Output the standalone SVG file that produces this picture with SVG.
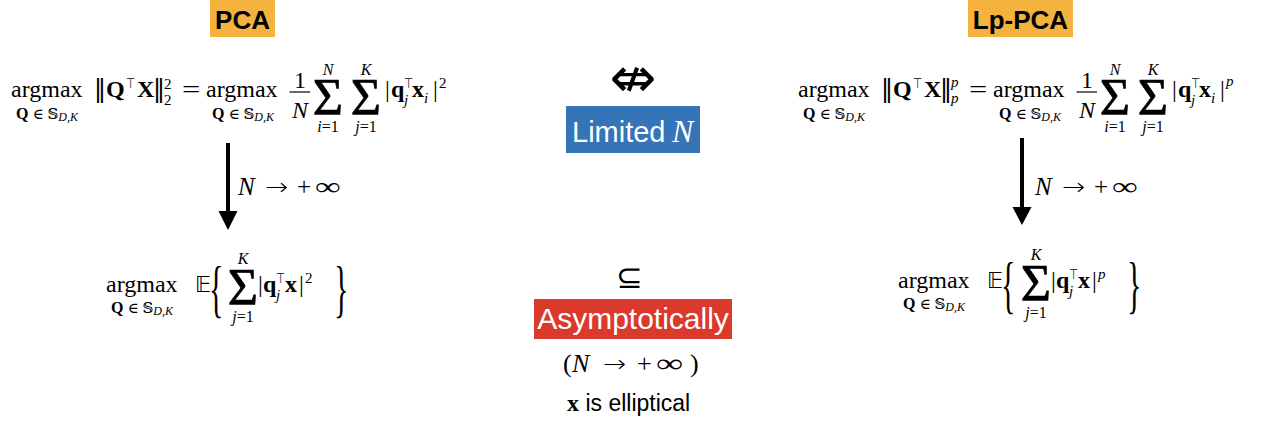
<svg xmlns="http://www.w3.org/2000/svg" width="1263" height="425" viewBox="0 0 1263 425">
<style>
.m{font-family:"Liberation Serif","DejaVu Serif",serif;fill:#000}
.bf{font-weight:bold}
.it{font-style:italic}
.dv{font-family:"DejaVu Serif","DejaVu Sans",serif}
.sym{font-family:"DejaVu Sans",sans-serif}
.lt{font-family:"DejaVu Sans",sans-serif;font-weight:200}
.ss{font-family:"Liberation Sans","Arial",sans-serif}
.lbl{font-family:"Liberation Sans","Arial",sans-serif;font-weight:bold;fill:#000}
.sig{font-family:"Liberation Serif","DejaVu Serif",serif;stroke:#000;stroke-width:0.7}
.wt{fill:#fff}
</style>
<defs>
<g id="sub-q">
<text class="m" x="0" y="0" text-anchor="middle" font-size="15"><tspan class="bf" font-size="16">Q</tspan><tspan class="dv" dx="4">∈</tspan><tspan class="dv" dx="4">𝕊</tspan><tspan class="it" font-size="12" dy="2">D,K</tspan></text>
</g>
<g id="top-t">
<text class="sym" x="0" y="0" font-size="14" transform="scale(0.75 1)">⊤</text>
</g>
<g id="eq">
<text class="m" x="0" y="0" font-size="24" transform="scale(1.35 1)">=</text>
</g>
<g id="to">
<text class="lt" x="0" y="0" font-size="24" transform="scale(1.15 1)">→</text>
</g>
</defs>

<g id="connectors">
<line x1="228" y1="143" x2="228" y2="213" stroke="#000" stroke-width="4"/>
<polygon points="218.5,211 237.5,211 228,230" fill="#000"/>
<line x1="1022" y1="138" x2="1022" y2="208" stroke="#000" stroke-width="4"/>
<polygon points="1012.5,207 1031.5,207 1022,225" fill="#000"/>
</g>

<g id="label-pca">
<rect x="210" y="0" width="65" height="37" fill="#f4b23e"/>
<text class="lbl" x="242.5" y="28.5" font-size="26" text-anchor="middle">PCA</text>
</g>

<g id="label-lppca">
<rect x="968" y="0" width="105" height="37" fill="#f4b23e"/>
<text class="lbl" x="1020.5" y="28.5" font-size="26" text-anchor="middle">Lp-PCA</text>
</g>

<g id="pca-finite" font-size="24">
<text class="m" x="11" y="97">argmax</text>
<use href="#sub-q" x="47" y="119"/>
<text class="m sym" x="94" y="97">‖</text>
<text class="m bf" x="106" y="97">Q</text>
<use href="#top-t" x="126" y="88"/>
<text class="m bf" x="137" y="97">X</text>
<text class="m sym" x="153" y="97">‖</text>
<text class="m" x="164" y="89" font-size="15">2</text>
<text class="m" x="164" y="105" font-size="15">2</text>
<use href="#eq" x="182" y="97"/>
<text class="m" x="206" y="97">argmax</text>
<use href="#sub-q" x="243" y="119"/>
<text class="m" x="300" y="88" text-anchor="middle">1</text>
<line x1="289.5" y1="92" x2="310" y2="92" stroke="#000" stroke-width="1.2"/>
<text class="m it" x="300" y="118" text-anchor="middle">N</text>
<text class="sig" x="328" y="115" font-size="52" text-anchor="middle">Σ</text>
<text class="m it" x="328" y="75" font-size="16" text-anchor="middle">N</text>
<text class="m it" x="328" y="132" font-size="16" text-anchor="middle">i<tspan font-style="normal">=1</tspan></text>
<text class="sig" x="366" y="115" font-size="52" text-anchor="middle">Σ</text>
<text class="m it" x="366" y="75" font-size="16" text-anchor="middle">K</text>
<text class="m it" x="366" y="132" font-size="16" text-anchor="middle">j<tspan font-style="normal">=1</tspan></text>
<text class="m" x="385" y="97">|</text>
<text class="m bf" x="391" y="97">q</text>
<use href="#top-t" x="404" y="88"/>
<text class="m it" x="404" y="105" font-size="15">j</text>
<text class="m bf" x="412" y="97">x</text>
<text class="m it" x="424" y="103" font-size="15">i</text>
<text class="m" x="433" y="97">|</text>
<text class="m" x="439" y="88" font-size="15">2</text>
</g>

<g id="lppca-finite" font-size="24">
<text class="m" x="798" y="97">argmax</text>
<use href="#sub-q" x="834" y="119"/>
<text class="m sym" x="881" y="97">‖</text>
<text class="m bf" x="893" y="97">Q</text>
<use href="#top-t" x="913" y="88"/>
<text class="m bf" x="924" y="97">X</text>
<text class="m sym" x="940" y="97">‖</text>
<text class="m it" x="951" y="87" font-size="15">p</text>
<text class="m it" x="951" y="103" font-size="15">p</text>
<use href="#eq" x="969" y="97"/>
<text class="m" x="993" y="97">argmax</text>
<use href="#sub-q" x="1030" y="119"/>
<text class="m" x="1087" y="88" text-anchor="middle">1</text>
<line x1="1076.5" y1="92" x2="1097" y2="92" stroke="#000" stroke-width="1.2"/>
<text class="m it" x="1087" y="118" text-anchor="middle">N</text>
<text class="sig" x="1115" y="115" font-size="52" text-anchor="middle">Σ</text>
<text class="m it" x="1115" y="75" font-size="16" text-anchor="middle">N</text>
<text class="m it" x="1115" y="132" font-size="16" text-anchor="middle">i<tspan font-style="normal">=1</tspan></text>
<text class="sig" x="1153" y="115" font-size="52" text-anchor="middle">Σ</text>
<text class="m it" x="1153" y="75" font-size="16" text-anchor="middle">K</text>
<text class="m it" x="1153" y="132" font-size="16" text-anchor="middle">j<tspan font-style="normal">=1</tspan></text>
<text class="m" x="1172" y="97">|</text>
<text class="m bf" x="1178" y="97">q</text>
<use href="#top-t" x="1191" y="88"/>
<text class="m it" x="1191" y="105" font-size="15">j</text>
<text class="m bf" x="1199" y="97">x</text>
<text class="m it" x="1211" y="103" font-size="15">i</text>
<text class="m" x="1220" y="97">|</text>
<text class="m it" x="1226" y="86" font-size="15">p</text>
</g>

<g id="limit-left" font-size="25">
<text class="m it" x="238" y="195">N</text>
<use href="#to" x="265" y="195"/>
<text class="m" x="297" y="195">+</text>
<text class="m" x="0" y="0" transform="translate(315 195) scale(1.45 1)">∞</text>
</g>

<g id="limit-right" font-size="25">
<text class="m it" x="1035" y="195">N</text>
<use href="#to" x="1062" y="195"/>
<text class="m" x="1094" y="195">+</text>
<text class="m" x="0" y="0" transform="translate(1112 195) scale(1.45 1)">∞</text>
</g>

<g id="pca-asymptotic" font-size="24">
<text class="m" x="106" y="292">argmax</text>
<use href="#sub-q" x="142" y="313"/>
<text class="lt" x="195" y="292" font-size="22">𝔼</text>
<text class="m" x="0" y="0" font-size="30" transform="translate(209 310) scale(1 2.1)">{</text>
<text class="sig" x="243" y="305" font-size="52" text-anchor="middle">Σ</text>
<text class="m it" x="243" y="264" font-size="16" text-anchor="middle">K</text>
<text class="m it" x="243" y="322" font-size="16" text-anchor="middle">j<tspan font-style="normal">=1</tspan></text>
<text class="m" x="258" y="292">|</text>
<text class="m bf" x="263" y="292">q</text>
<use href="#top-t" x="276" y="283"/>
<text class="m it" x="276" y="300" font-size="15">j</text>
<text class="m bf" x="285" y="292">x</text>
<text class="m" x="299" y="292">|</text>
<text class="m" x="305" y="283" font-size="15">2</text>
<text class="m" x="0" y="0" font-size="30" transform="translate(334 310) scale(1 2.1)">}</text>
</g>

<g id="lppca-asymptotic" font-size="24">
<text class="m" x="898" y="288">argmax</text>
<use href="#sub-q" x="934" y="309"/>
<text class="lt" x="987" y="288" font-size="22">𝔼</text>
<text class="m" x="0" y="0" font-size="30" transform="translate(1001 306) scale(1 2.1)">{</text>
<text class="sig" x="1036" y="301" font-size="52" text-anchor="middle">Σ</text>
<text class="m it" x="1036" y="260" font-size="16" text-anchor="middle">K</text>
<text class="m it" x="1036" y="318" font-size="16" text-anchor="middle">j<tspan font-style="normal">=1</tspan></text>
<text class="m" x="1051" y="288">|</text>
<text class="m bf" x="1056" y="288">q</text>
<use href="#top-t" x="1069" y="279"/>
<text class="m it" x="1069" y="296" font-size="15">j</text>
<text class="m bf" x="1078" y="288">x</text>
<text class="m" x="1092" y="288">|</text>
<text class="m it" x="1098" y="279" font-size="15">p</text>
<text class="m" x="0" y="0" font-size="30" transform="translate(1127 306) scale(1 2.1)">}</text>
</g>

<g id="not-equivalent">
<text class="sym" x="633" y="97" font-size="56" text-anchor="middle">⇎</text>
</g>

<g id="limited-n">
<rect x="566" y="106" width="134" height="47" fill="#3574b7"/>
<text class="ss wt" x="572" y="142" font-size="29">Limited</text>
<text class="m it wt" x="672" y="142" font-size="32">N</text>
</g>

<g id="subset">
<text class="lt" x="629" y="288" font-size="32" text-anchor="middle">⊆</text>
</g>

<g id="asymptotically">
<rect x="534" y="299" width="198" height="40" fill="#d93a2b"/>
<text class="ss wt" x="633" y="329" font-size="30" text-anchor="middle">Asymptotically</text>
</g>

<g id="condition" font-size="26">
<text class="m" x="563" y="372">(</text>
<text class="m it" x="572" y="372">N</text>
<use href="#to" x="603" y="372"/>
<text class="m" x="637" y="372">+</text>
<text class="m" x="0" y="0" transform="translate(656 372) scale(1.45 1)">∞</text>
<text class="m" x="690" y="372">)</text>
<text x="567" y="411"><tspan class="m bf" font-size="24">x</tspan><tspan class="ss" font-size="23"> is elliptical</tspan></text>
</g>
</svg>
